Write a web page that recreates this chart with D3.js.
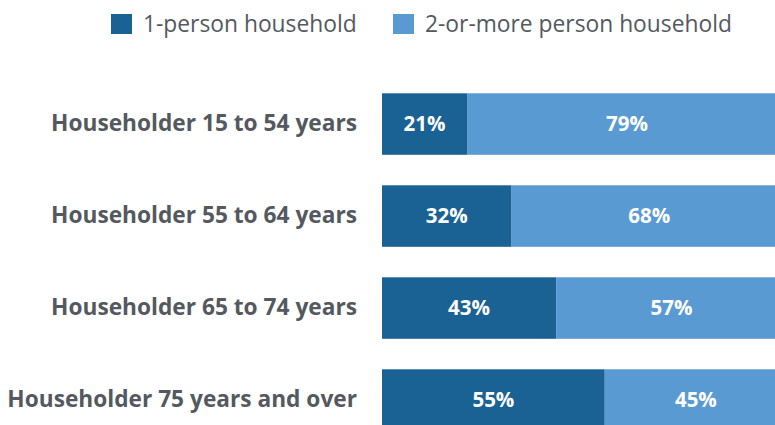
<!DOCTYPE html>
<html>
<head>
<meta charset="utf-8">
<script src="https://cdn.jsdelivr.net/npm/d3@7"></script>
<style>
  body { margin: 0; background: #fff; }
  svg { display: block; font-family: "Open Sans", sans-serif; }
</style>
</head>
<body>
<div id="chart"></div>
<script>
// data
const categories = ["Householder 15 to 54 years", "Householder 55 to 64 years", "Householder 65 to 74 years", "Householder 75 years and over"];
const seriesNames = ["1-person household", "2-or-more person household"];
const onePerson = [21, 32, 43, 55];
const twoOrMore = [79, 68, 57, 45];
const colors = ["#1a6194", "#5a9ad3"];

const width = 775, height = 425;

const svg = d3.select("#chart")
    .append("svg")
    .attr("width", width)
    .attr("height", height);

// scales
var x = d3.scaleLinear()
    .domain([0, 100])
    .range([382, 787]);

var y = d3.scaleBand()
    .domain(categories)
    .range([93.3, 430.8])
    .paddingInner(0.3315)
    .paddingOuter(0);

const rows = categories.map((c, i) => ({ cat: c, vals: [onePerson[i], twoOrMore[i]] }));

// bars
const row = svg.selectAll(".row")
    .data(rows)
    .enter()
    .append("g")
    .attr("class", "row");

row.each(function (d) {
    let g = d3.select(this);
    let start = 0;
    d.vals.forEach((v, k) => {
        g.append("rect")
            .attr("x", x(start))
            .attr("y", y(d.cat))
            .attr("width", x(start + v) - x(start))
            .attr("height", y.bandwidth())
            .attr("fill", colors[k]);
        g.append("text")
            .attr("x", (x(start) + x(start + v)) / 2)
            .attr("y", y(d.cat) + y.bandwidth() / 2)
            .attr("dy", "0.33em")
            .attr("text-anchor", "middle")
            .attr("fill", "#fff")
            .style("font-size", "20.5px")
            .style("font-weight", "bold")
            .text(v + "%");
        start += v;
    });
});

// category labels
svg.selectAll(".cat")
    .data(categories)
    .enter()
    .append("text")
    .attr("class", "cat")
    .attr("x", 357)
    .attr("y", d => y(d) + y.bandwidth() / 2)
    .attr("dy", "0.3em")
    .attr("text-anchor", "end")
    .attr("fill", "#54595f")
    .style("font-size", "22.7px")
    .style("font-weight", "bold")
    .text(d => d);

// legend
const legendX = [111, 393];
const leg = svg.selectAll(".leg")
    .data(seriesNames)
    .enter()
    .append("g")
    .attr("class", "leg")
    .attr("transform", (d, i) => "translate(" + legendX[i] + ",14)");

leg.append("rect")
    .attr("width", 21)
    .attr("height", 20)
    .attr("fill", (d, i) => colors[i]);

leg.append("text")
    .attr("x", 32)
    .attr("y", 18)
    .attr("fill", "#54595f")
    .style("font-size", "22.8px")
    .text(d => d);
</script>
</body>
</html>
